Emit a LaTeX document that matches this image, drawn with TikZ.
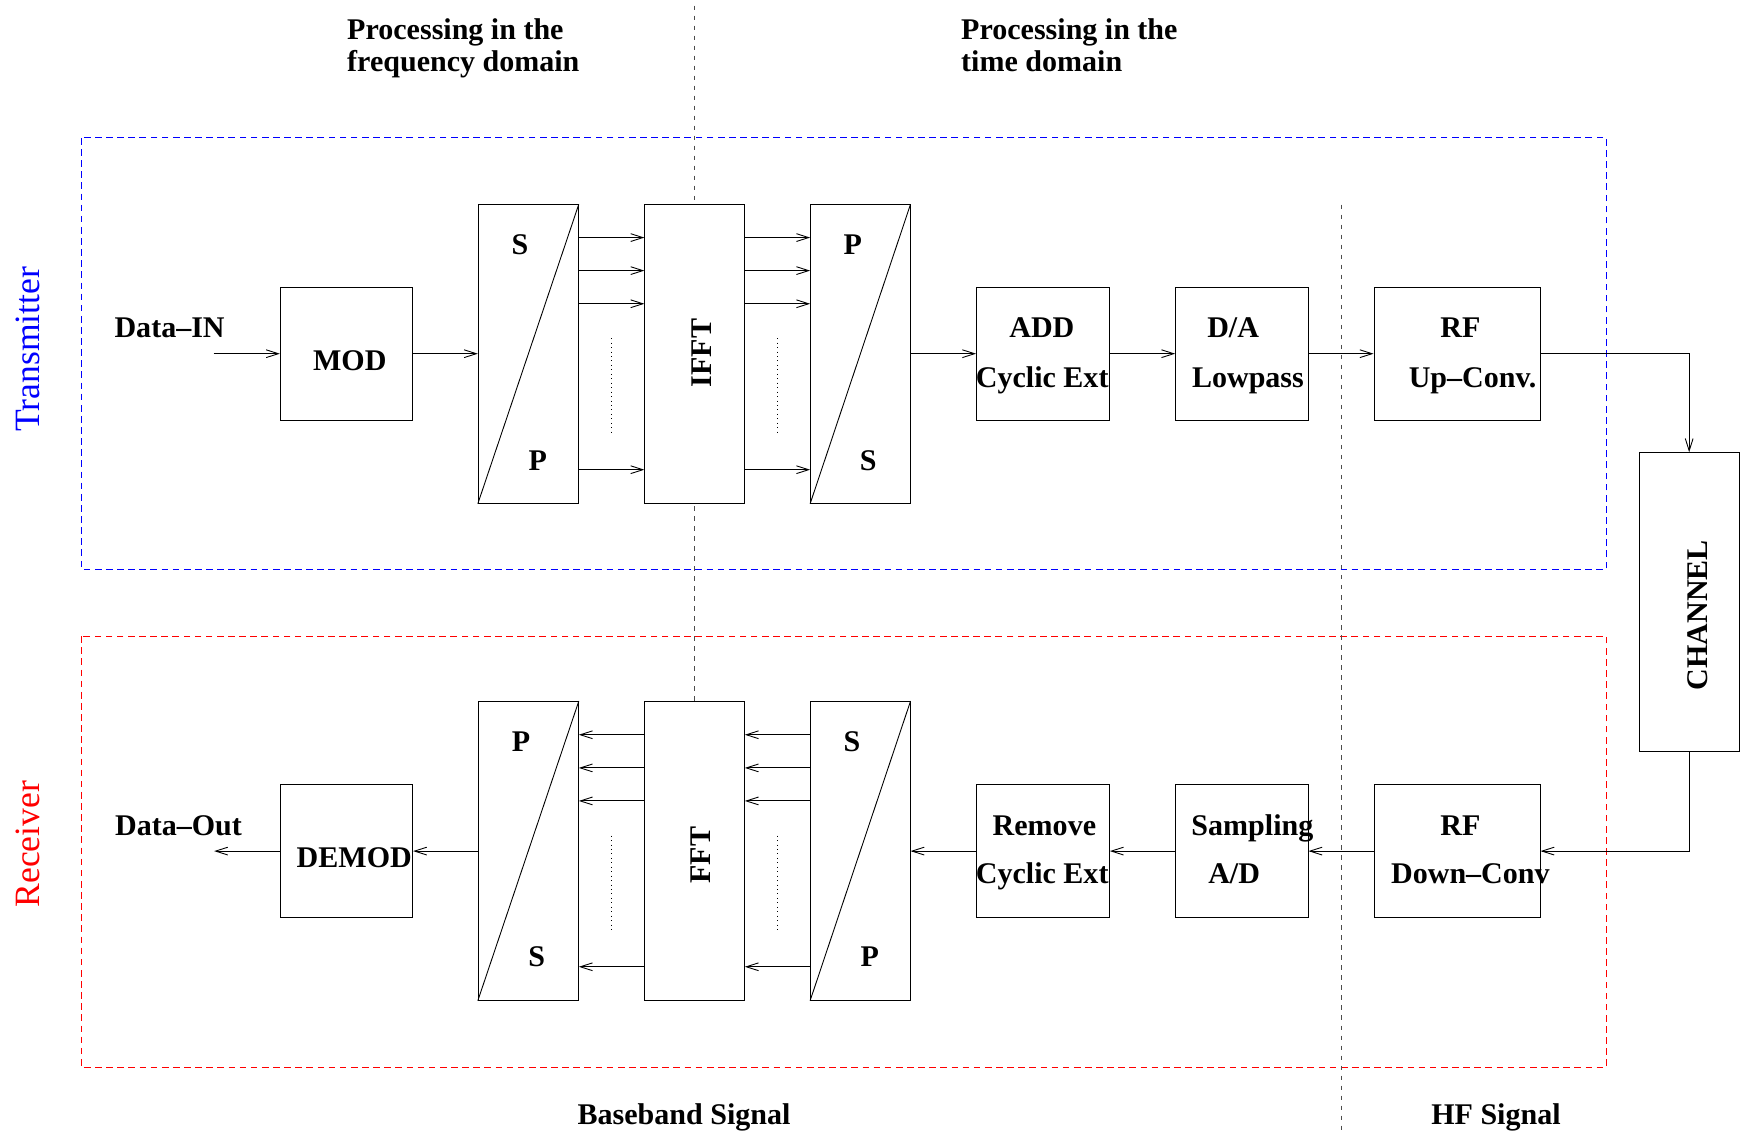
\documentclass[tikz,border=0pt]{standalone}
\usepackage{fontspec}
\setmainfont{Liberation Serif}
\usetikzlibrary{arrows.meta,calc}
\begin{document}
\begin{tikzpicture}[x=1pt,y=-1pt,
  blk/.style={draw, fill=white, inner sep=0pt, line width=0.8pt},
  arr/.style={-{Straight Barb[length=11pt,width=7pt]}, line width=0.8pt},
  con/.style={line width=0.8pt},
  lbl/.style={font=\fontsize{27}{32}\selectfont\bfseries, inner sep=0pt, anchor=base},
  rlbl/.style={font=\fontsize{27}{32}\selectfont\bfseries, inner sep=0pt, rotate=90},
  side/.style={font=\fontsize{32}{36}\selectfont, inner sep=0pt, rotate=90},
  vdash/.style={draw=black!70, line width=0.8pt, dash pattern=on 4pt off 5pt},
  dots/.style={line width=0.7pt, dash pattern=on 0.8pt off 3.2pt},
  grp/.style={line width=1pt, dash pattern=on 6pt off 4pt}]
\useasboundingbox (0,0) rectangle (1568,1020);
\fill[white] (0,0) rectangle (1568,1020);

% group frames
\draw[grp, blue] (73,124) rectangle (1444.5,511.7);
\draw[grp, red] (73,572) rectangle (1444.5,959.5);

% domain separators
\coordinate (d1top) at (624.5,5);
\coordinate (d1bot) at (624.5,631);
\coordinate (d2top) at (1206,184);
\coordinate (d2bot) at (1206,1020);
\draw[vdash] (d1top) -- (d1bot);
\draw[vdash] (d2top) -- (d2bot);

% side labels
\node[side, text=blue] (tx) at (25,314) {Transmitter};
\node[side, text=red] (rx) at (25,759) {Receiver};

% headings
\node[lbl, anchor=base west] (h1a) at (312,35.5) {Processing in the};
\node[lbl, anchor=base west] (h1b) at (312,64) {frequency domain};
\node[lbl, anchor=base west] (h2a) at (864,35.5) {Processing in the};
\node[lbl, anchor=base west] (h2b) at (864,64) {time domain};
\node[lbl] (bb) at (615,1011) {Baseband Signal};
\node[lbl] (hf) at (1345,1011) {HF Signal};

% transmitter blocks
\node[blk, minimum width=119pt, minimum height=120pt] (mod) at (311.5,318) {};
\node[blk, minimum width=90pt, minimum height=268.5pt] (sp1) at (475,318.25) {};
\node[blk, minimum width=89.5pt, minimum height=268.5pt] (ifft) at (624.5,318.25) {};
\node[blk, minimum width=89.5pt, minimum height=268.5pt] (ps1) at (773.5,318.25) {};
\node[blk, minimum width=119.5pt, minimum height=120pt] (add) at (937.7,318) {};
\node[blk, minimum width=119pt, minimum height=120pt] (da) at (1116.5,318) {};
\node[blk, minimum width=149.3pt, minimum height=120pt] (rfu) at (1310,318) {};
\node[blk, minimum width=90pt, minimum height=268.8pt] (chan) at (1518.7,541.4) {};

% receiver blocks
\node[blk, minimum width=149.3pt, minimum height=119.4pt] (rfd) at (1310,765.2) {};
\node[blk, minimum width=119pt, minimum height=119.4pt] (samp) at (1116.5,765.2) {};
\node[blk, minimum width=119.5pt, minimum height=119.4pt] (rem) at (937.7,765.2) {};
\node[blk, minimum width=89.5pt, minimum height=268.6pt] (sp2) at (773.5,765) {};
\node[blk, minimum width=89.5pt, minimum height=268.6pt] (fft) at (624.5,765) {};
\node[blk, minimum width=90pt, minimum height=268.6pt] (ps2) at (475,765) {};
\node[blk, minimum width=119pt, minimum height=119.4pt] (demod) at (311.5,765.2) {};

% diagonals of the converters
\draw[con] (sp1.south west) -- (sp1.north east);
\draw[con] (ps1.south west) -- (ps1.north east);
\draw[con] (sp2.south west) -- (sp2.north east);
\draw[con] (ps2.south west) -- (ps2.north east);

% block labels
\node[lbl] (lmod) at (314.5,333) {MOD};
\node[lbl] (lsp1a) at (467.5,229) {S};
\node[lbl] (lsp1b) at (483.5,423) {P};
\node[rlbl] (lifft) at (630.5,317.5) {IFFT};
\node[lbl] (lps1a) at (766.7,229) {P};
\node[lbl] (lps1b) at (780.5,423) {S};
\node[lbl] (ladda) at (936.7,303) {ADD};
\node[lbl] (laddb) at (937,348) {Cyclic Ext};
\node[lbl] (ldaa) at (1108.7,303) {D/A};
\node[lbl] (ldab) at (1122,348) {Lowpass};
\node[lbl] (lrfua) at (1313,303) {RF};
\node[lbl] (lrfub) at (1324,348) {Up--Conv.};
\node[rlbl] (lchan) at (1526,553) {CHANNEL};
\node[lbl] (lrfda) at (1313,751) {RF};
\node[lbl] (lrfdb) at (1322,794) {Down--Conv};
\node[lbl] (lsampa) at (1126,751) {Sampling};
\node[lbl] (lsampb) at (1109.6,794) {A/D};
\node[lbl] (lrema) at (939,751) {Remove};
\node[lbl] (lremb) at (937,794) {Cyclic Ext};
\node[lbl] (lsp2a) at (766,676) {S};
\node[lbl] (lsp2b) at (782,869) {P};
\node[rlbl] (lfft) at (630,769) {FFT};
\node[lbl] (lps2a) at (468.5,676) {P};
\node[lbl] (lps2b) at (482.5,869) {S};
\node[lbl] (ldemod) at (318.5,780) {DEMOD};
\node[lbl] (ldin) at (152.5,303) {Data--IN};
\node[lbl] (ldout) at (160.5,751) {Data--Out};

% transmitter connectors
\coordinate (din) at (192,318);
\draw[arr] (din) -- (mod.west);
\draw[arr] (mod.east) -- (sp1.west |- mod.east);
\foreach \o in {30,59.7,89.5,238.7}{
  \draw[arr] ([yshift=-\o pt]sp1.north east) -- ([yshift=-\o pt]ifft.north west);
  \draw[arr] ([yshift=-\o pt]ifft.north east) -- ([yshift=-\o pt]ps1.north west);
}
\draw[dots] ($(sp1.north east)!.5!(ifft.north west)+(0,120.5)$) -- ++(0,86);
\draw[dots] ($(ifft.north east)!.5!(ps1.north west)+(0,120.5)$) -- ++(0,86);
\draw[arr] (ps1.east |- add.west) -- (add.west);
\draw[arr] (add.east) -- (da.west);
\draw[arr] (da.east) -- (rfu.west);
\draw[arr] (rfu.east) -| (chan.north);

% receiver connectors
\draw[arr] (chan.south) |- (rfd.east);
\draw[arr] (rfd.west) -- (samp.east);
\draw[arr] (samp.west) -- (rem.east);
\draw[arr] (rem.west) -- (sp2.east |- rem.west);
\foreach \o in {30.3,60.1,89.8,238.9}{
  \draw[arr] ([yshift=-\o pt]sp2.north west) -- ([yshift=-\o pt]fft.north east);
  \draw[arr] ([yshift=-\o pt]fft.north west) -- ([yshift=-\o pt]ps2.north east);
}
\draw[dots] ($(ps2.north east)!.5!(fft.north west)+(0,121)$) -- ++(0,85.5);
\draw[dots] ($(fft.north east)!.5!(sp2.north west)+(0,121)$) -- ++(0,85.5);
\draw[arr] (ps2.west |- demod.east) -- (demod.east);
\coordinate (dout) at (192.5,765.2);
\draw[arr] (demod.west) -- (dout);
\end{tikzpicture}
\end{document}
